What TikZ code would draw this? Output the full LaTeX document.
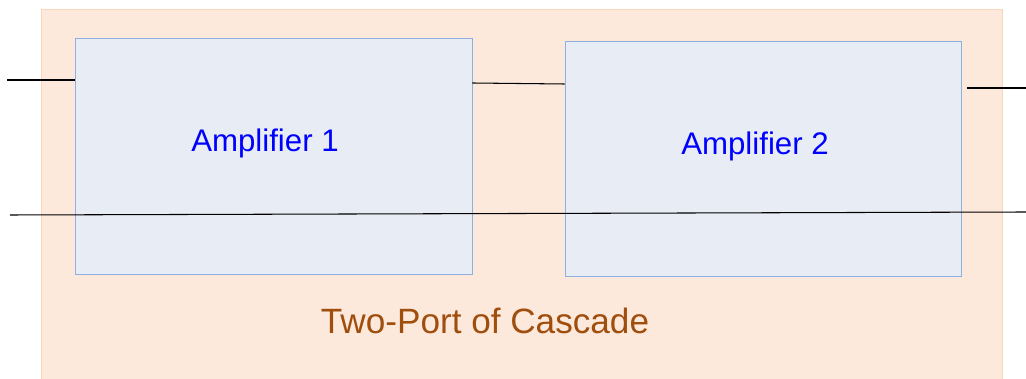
\documentclass[tikz,border=0pt]{standalone}
\usepackage{fontspec}
\setmainfont{Liberation Sans}
\usetikzlibrary{positioning}
\definecolor{cascfill}{HTML}{FCE9DC}
\definecolor{cascdraw}{HTML}{F9D6BA}
\definecolor{ampfill}{HTML}{E8ECF5}
\definecolor{ampdraw}{HTML}{8DB0E0}
\definecolor{cascbrown}{HTML}{A04E0E}
\tikzset{
  cascade/.style={draw=cascdraw,fill=cascfill,line width=0.6pt},
  ampbox/.style={draw=ampdraw,fill=ampfill,line width=0.6pt,inner sep=0pt},
  amptext/.style={text=blue,font=\fontsize{22.2}{26}\selectfont},
  casctext/.style={text=cascbrown,font=\fontsize{25}{30}\selectfont},
  wire/.style={draw=black,line width=0.75pt}
}
\begin{document}
\begin{tikzpicture}[x=0.025cm,y=-0.025cm]
    \useasboundingbox (0,0) rectangle (1026,379);
    \fill[cascade] (41,9) rectangle (1002,385);
    \node[ampbox,minimum width=9.925cm,minimum height=5.9cm] (amp1) at (273.5,156) {};
    \node[ampbox,minimum width=9.9cm,minimum height=5.875cm] (amp2) at (763,158.5) {};
    \node[amptext] (lbl1) at (265,143) {Amplifier 1};
    \node[amptext] (lbl2) at (755,146) {Amplifier 2};
    \node[casctext] (cascade) at (485,321) {Two-Port of Cascade};
    % terminals
    \coordinate (inL) at (7,80);
    \coordinate (outR) at (1026,88);
    \coordinate (gndL) at (10,215);
    \coordinate (gndR) at (1026,212);
    \draw[wire] (inL) -- (amp1.west |- inL);
    \draw[wire] (amp1.east |- 0,83) -- (amp2.west |- 0,84);
    \draw[wire] (amp2.east |- 0,88) ++(6,0) -- (outR);
    \draw[wire] (gndL) -- (gndR);
\end{tikzpicture}
\end{document}
